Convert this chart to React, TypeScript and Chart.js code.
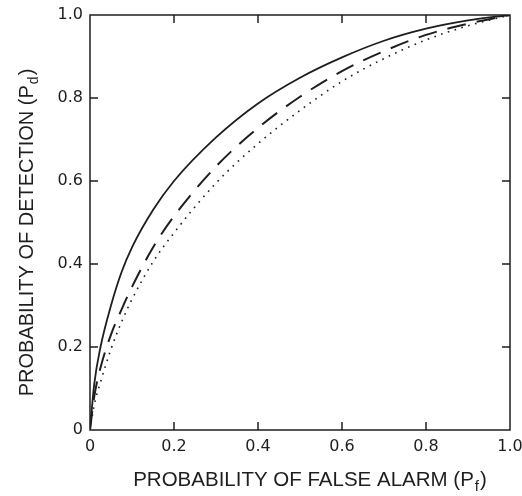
import { useEffect, useRef } from "react";
import { Chart, registerables } from "chart.js";

Chart.register(...registerables);

// Probability of false alarm (x) sample points
const falseAlarm = [0, 0.01, 0.025, 0.05, 0.075, 0.1, 0.15, 0.2, 0.3, 0.4, 0.5, 0.6, 0.7, 0.8, 0.9, 1.0];
// Probability of detection for the three curves
const detectionSolid = [0, 0.11, 0.2, 0.3, 0.38, 0.44, 0.53, 0.6, 0.705, 0.787, 0.849, 0.898, 0.938, 0.967, 0.987, 1.0];
const detectionDashed = [0, 0.08, 0.15, 0.23, 0.29, 0.345, 0.44, 0.515, 0.635, 0.728, 0.803, 0.865, 0.913, 0.952, 0.979, 1.0];
const detectionDotted = [0, 0.06, 0.115, 0.195, 0.26, 0.315, 0.405, 0.475, 0.595, 0.69, 0.77, 0.84, 0.895, 0.94, 0.974, 1.0];

const tickValues = [0, 0.2, 0.4, 0.6, 0.8, 1.0];
const xTickLabels = ["0", "0.2", "0.4", "0.6", "0.8", "1.0"];
const yTickLabels = ["0", "0.2", "0.4", "0.6", "0.8", "1.0"];
const xTitle = ["PROBABILITY OF FALSE ALARM (P", "f", ")"];
const yTitle = ["PROBABILITY OF DETECTION (P", "d", ")"];

const INK = "#1e1e1e";
const TITLE_FONT = '"Liberation Sans", Arial, sans-serif';
const TICK_FONT = '"DejaVu Sans", sans-serif';

function drawSubTitle(ctx: CanvasRenderingContext2D, parts: string[], cx: number, baseline: number, size: number) {
  const main = `${size}px ${TITLE_FONT}`;
  const sub = `${Math.round(size * 0.72)}px ${TITLE_FONT}`;
  ctx.font = main;
  const w1 = ctx.measureText(parts[0]).width;
  const w3 = ctx.measureText(parts[2]).width;
  ctx.font = sub;
  const w2 = ctx.measureText(parts[1]).width;
  let x = cx - (w1 + w2 + w3 + 2) / 2;
  ctx.textAlign = "left";
  ctx.textBaseline = "alphabetic";
  ctx.fillStyle = INK;
  ctx.font = main;
  ctx.fillText(parts[0], x, baseline);
  x += w1 + 1;
  ctx.font = sub;
  ctx.fillText(parts[1], x, baseline + 5);
  x += w2 + 1;
  ctx.font = main;
  ctx.fillText(parts[2], x, baseline);
}

const framePlugin = {
  id: "frameTicksTitles",
  afterDraw(chart: any) {
    const { ctx, chartArea: a, scales } = chart;
    const xs = scales.x;
    const ys = scales.y;
    ctx.save();
    ctx.strokeStyle = INK;
    ctx.lineWidth = 1.5;
    ctx.strokeRect(a.left, a.top, a.right - a.left, a.bottom - a.top);
    const L = 8;
    ctx.beginPath();
    tickValues.forEach((v) => {
      if (v === 0 || v === 1) return;
      const px = xs.getPixelForValue(v);
      ctx.moveTo(px, a.bottom);
      ctx.lineTo(px, a.bottom - L);
      ctx.moveTo(px, a.top);
      ctx.lineTo(px, a.top + L);
      const py = ys.getPixelForValue(v);
      ctx.moveTo(a.left, py);
      ctx.lineTo(a.left + L, py);
      ctx.moveTo(a.right, py);
      ctx.lineTo(a.right - L, py);
    });
    ctx.stroke();

    drawSubTitle(ctx, xTitle, (a.left + a.right) / 2 + 10, a.bottom + 56, 20.5);

    ctx.translate(a.left - 57, (a.top + a.bottom) / 2 + 10);
    ctx.rotate(-Math.PI / 2);
    drawSubTitle(ctx, yTitle, 0, 0, 20);
    ctx.restore();
  },
};

export default function App() {
  const ref = useRef<HTMLCanvasElement | null>(null);

  useEffect(() => {
    if (!ref.current) return;
    const mk = (ys: number[]) => falseAlarm.map((x, i) => ({ x, y: ys[i] }));
    const common = {
      pointRadius: 0,
      borderColor: INK,
      backgroundColor: INK,
      fill: false,
      cubicInterpolationMode: "monotone" as const,
    };
    const chart = new Chart(ref.current, {
      type: "line",
      data: {
        datasets: [
          { ...common, label: "solid", data: mk(detectionSolid), borderWidth: 1.8 },
          { ...common, label: "dashed", data: mk(detectionDashed), borderWidth: 2, borderDash: [19, 11] },
          { ...common, label: "dotted", data: mk(detectionDotted), borderWidth: 1.6, borderDash: [1.6, 5.5] },
        ],
      },
      options: {
        responsive: false,
        animation: false,
        layout: { padding: { top: 15, right: 12, left: 0, bottom: 0 } },
        plugins: { legend: { display: false }, tooltip: { enabled: false } },
        scales: {
          x: {
            type: "linear",
            min: 0,
            max: 1,
            grid: { display: false, drawTicks: false },
            border: { display: false },
            afterBuildTicks: (s: any) => {
              s.ticks = tickValues.map((v) => ({ value: v }));
            },
            afterFit: (s: any) => {
              s.height = 66;
              s.paddingLeft = 0;
              s.paddingRight = 0;
            },
            ticks: {
              padding: 7,
              color: INK,
              font: { family: TICK_FONT, size: 16 },
              maxRotation: 0,
              callback: (v: any) => {
                const i = tickValues.findIndex((t) => Math.abs(t - Number(v)) < 1e-9);
                return i >= 0 ? xTickLabels[i] : "";
              },
            },
          },
          y: {
            type: "linear",
            min: 0,
            max: 1,
            grid: { display: false, drawTicks: false },
            border: { display: false },
            afterBuildTicks: (s: any) => {
              s.ticks = tickValues.map((v) => ({ value: v }));
            },
            afterFit: (s: any) => {
              s.width = 90;
              s.paddingTop = 0;
              s.paddingBottom = 0;
            },
            ticks: {
              padding: 7,
              color: INK,
              font: { family: TICK_FONT, size: 16 },
              callback: (v: any) => {
                const i = tickValues.findIndex((t) => Math.abs(t - Number(v)) < 1e-9);
                return i >= 0 ? yTickLabels[i] : "";
              },
            },
          },
        },
      },
      plugins: [framePlugin],
    });
    return () => chart.destroy();
  }, []);

  return (
    <div style={{ position: "fixed", left: 0, top: 0, width: 522, height: 496, background: "#fff" }}>
      <canvas ref={ref} width={522} height={496} />
    </div>
  );
}
